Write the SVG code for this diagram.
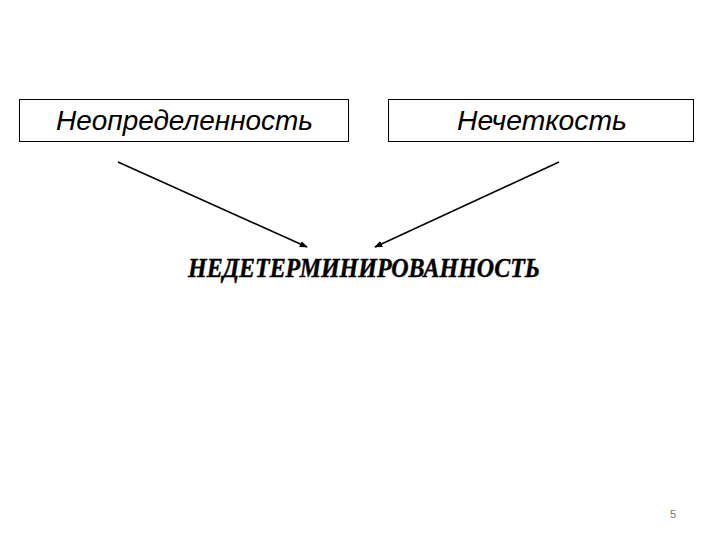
<svg xmlns="http://www.w3.org/2000/svg" width="720" height="540" viewBox="0 0 720 540">
<defs>
<style>
.box{fill:#fff;stroke:#000;stroke-width:1}
.lbl{font-family:"Liberation Sans",Arial,sans-serif;font-style:italic;font-size:27px;fill:#000;text-anchor:middle}
.main{font-family:"Liberation Serif","Times New Roman",serif;font-style:italic;font-weight:bold;font-size:27px;fill:#000;stroke:#000;stroke-width:0.4}
.con{stroke:#000;stroke-width:1.5;fill:none;marker-end:url(#ah)}
</style>
<marker id="ah" viewBox="0 0 10 10" refX="9" refY="5" markerWidth="8" markerHeight="8" orient="auto" markerUnits="userSpaceOnUse">
<path d="M0,1 L10,5 L0,9 Z" fill="#000"/>
</marker>
</defs>
<rect width="720" height="540" fill="#fff"/>
<g id="node-uncertainty">
<rect class="box" x="19.5" y="99.5" width="329" height="42"/>
<text class="lbl" x="184.5" y="130" textLength="257" lengthAdjust="spacingAndGlyphs">Неопределенность</text>
</g>
<g id="node-fuzziness">
<rect class="box" x="388.5" y="99.5" width="305" height="42"/>
<text class="lbl" x="542" y="130" textLength="170" lengthAdjust="spacingAndGlyphs">Нечеткость</text>
</g>
<g id="node-nondeterminism">
<text class="main" x="188" y="277" textLength="352" lengthAdjust="spacingAndGlyphs">НЕДЕТЕРМИНИРОВАННОСТЬ</text>
</g>
<g id="connectors">
<line class="con" x1="118" y1="162" x2="307" y2="247"/>
<line class="con" x1="559" y1="162" x2="375" y2="247"/>
</g>
<text x="673" y="518" font-family="Liberation Sans,Arial,sans-serif" font-size="11" fill="#777" text-anchor="middle">5</text>
</svg>
